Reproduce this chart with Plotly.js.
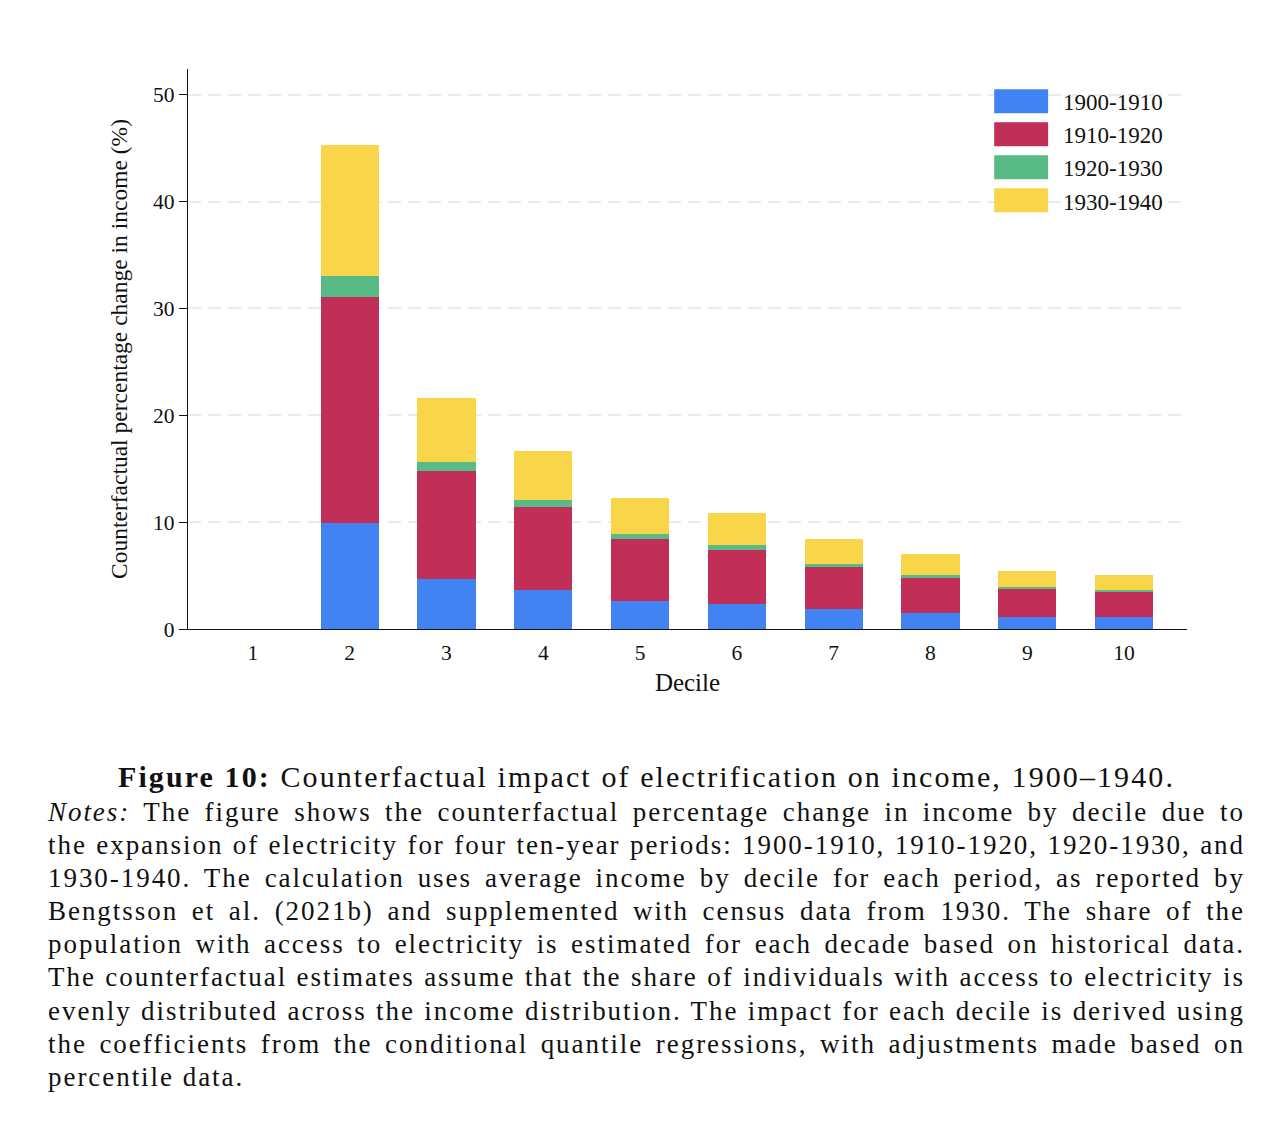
<!DOCTYPE html>
<html>
<head>
<meta charset="utf-8">
<script src="https://cdn.plot.ly/plotly-3.0.1.min.js"></script>
<style>
  html, body { margin: 0; padding: 0; background: #fff; }
  #chart { position: absolute; left: 0; top: 0; width: 1288px; height: 740px; }
  #caption { position: absolute; left: 48px; top: 758px; width: 1197px;
             font-family: "Liberation Serif", "Times New Roman", serif; color: #111; }
  #caption .title { text-align: center; font-size: 30px; line-height: 38px; white-space: nowrap; }
  #caption .ln { font-size: 27px; line-height: 33.1px; white-space: nowrap;
                 text-align: justify; text-align-last: justify; }
  #caption .ln.last { text-align-last: left; }
  #caption .measure { position: absolute; left: 0; top: 0; visibility: hidden; white-space: nowrap; width: auto; }
</style>
</head>
<body>
<div id="chart"></div>
<div id="caption"></div>
<script>
// ---- data ----
const deciles = [1, 2, 3, 4, 5, 6, 7, 8, 9, 10];
const p1900_1910 = [0, 9.9, 4.68, 3.62, 2.65, 2.37, 1.84, 1.50, 1.15, 1.10];
const p1910_1920 = [0, 21.2, 10.08, 7.77, 5.78, 5.06, 3.94, 3.31, 2.56, 2.36];
const p1920_1930 = [0, 1.9, 0.91, 0.72, 0.50, 0.44, 0.34, 0.25, 0.22, 0.19];
const p1930_1940 = [0, 12.25, 5.90, 4.53, 3.34, 2.99, 2.31, 1.96, 1.53, 1.41];
const seriesNames = ["1900-1910", "1910-1920", "1920-1930", "1930-1940"];
const seriesColors = ["#4283F4", "#C12F59", "#58BB85", "#F8D549"];
const yTicks = [0, 10, 20, 30, 40, 50];

const seriesValues = [p1900_1910, p1910_1920, p1920_1930, p1930_1940];
const serif = "Liberation Serif, Times New Roman, serif";

const traces = seriesValues.map((vals, i) => ({
  type: "bar",
  x: deciles,
  y: vals,
  name: seriesNames[i],
  marker: { color: seriesColors[i], line: { width: 0 } },
  width: 0.6,
  showlegend: false,
  hoverinfo: "x+y+name"
}));

// legend drawn as swatches + labels (paper coords)
const shapes = [];
const annotations = [];
const legX0 = 0.807, legX1 = 0.861, legTop = 0.964, legH = 0.043, legStep = 0.059;
seriesNames.forEach((nm, i) => {
  const top = legTop - i * legStep;
  shapes.push({ type: "rect", xref: "paper", yref: "paper",
    x0: legX0, x1: legX1, y0: top - legH, y1: top,
    fillcolor: seriesColors[i], line: { width: 0 } });
  annotations.push({ xref: "paper", yref: "paper", x: 0.874, y: top - legH / 2 - 0.003,
    xanchor: "left", yanchor: "middle", showarrow: false, text: nm,
    font: { family: serif, size: 23, color: "#111" } });
});

const layout = {
  width: 1288, height: 740,
  margin: { l: 188, r: 101, t: 69, b: 111 },
  paper_bgcolor: "#fff", plot_bgcolor: "#fff",
  barmode: "stack",
  bargap: 0.4,
  xaxis: {
    range: [0.33, 10.65],
    tickmode: "array", tickvals: deciles, ticktext: deciles.map(String),
    showline: true, linecolor: "#111", linewidth: 1.2,
    showgrid: false, zeroline: false, ticks: "",
    ticklabelstandoff: 4,
    tickfont: { family: serif, size: 21.5, color: "#111" },
    title: { text: "Decile", font: { family: serif, size: 25, color: "#111" }, standoff: 9 }
  },
  yaxis: {
    range: [0, 52.4],
    tickmode: "array", tickvals: yTicks, ticktext: yTicks.map(String),
    showline: true, linecolor: "#111", linewidth: 1.2,
    ticks: "outside", ticklen: 8, tickcolor: "#111", tickwidth: 1,
    showgrid: true, gridcolor: "#ebebeb", gridwidth: 2, griddash: "13px,7px",
    zeroline: false,
    tickfont: { family: serif, size: 21.5, color: "#111" },
    title: { text: "Counterfactual percentage change in income (%)",
             font: { family: serif, size: 23.5, color: "#111" }, standoff: 18 }
  },
  shapes: shapes,
  annotations: annotations,
  font: { family: serif, color: "#111" }
};

Plotly.newPlot("chart", traces, layout, { displayModeBar: false, staticPlot: true });

// ---- caption ----
const captionTitleBold = "Figure 10:";
const captionTitleRest = "Counterfactual impact of electrification on income, 1900–1940.";
const notesLines = [
  "The figure shows the counterfactual percentage change in income by decile due to",
  "the expansion of electricity for four ten-year periods: 1900-1910, 1910-1920, 1920-1930, and",
  "1930-1940. The calculation uses average income by decile for each period, as reported by",
  "Bengtsson et al. (2021b) and supplemented with census data from 1930. The share of the",
  "population with access to electricity is estimated for each decade based on historical data.",
  "The counterfactual estimates assume that the share of individuals with access to electricity is",
  "evenly distributed across the income distribution. The impact for each decile is derived using",
  "the coefficients from the conditional quantile regressions, with adjustments made based on",
  "percentile data."
];
const cap = document.getElementById("caption");
const t = document.createElement("div");
t.className = "title";
const b = document.createElement("b");
b.textContent = captionTitleBold;
t.appendChild(b);
t.appendChild(document.createTextNode(" " + captionTitleRest));
cap.appendChild(t);

const lineDivs = [];
notesLines.forEach((line, i) => {
  const d = document.createElement("div");
  d.className = "ln" + (i === notesLines.length - 1 ? " last" : "");
  if (i === 0) {
    const it = document.createElement("i");
    it.textContent = "Notes:";
    d.appendChild(it);
    d.appendChild(document.createTextNode(" " + line));
  } else {
    d.textContent = line;
  }
  cap.appendChild(d);
  lineDivs.push(d);
});

// width fitting: widen letters like Computer Modern so the tightest line fills the measure
function naturalWidth(el) {
  const m = el.cloneNode(true);
  m.className = el.className + " measure";
  cap.appendChild(m);
  const w = m.getBoundingClientRect().width;
  cap.removeChild(m);
  return w;
}
const target = 1197;
let ls = Infinity;
lineDivs.slice(0, -1).forEach(d => {
  const w = naturalWidth(d);
  const n = d.textContent.length;
  ls = Math.min(ls, (target - 8 - w) / n);
});
if (!isFinite(ls) || ls < 0) ls = 0;
lineDivs.forEach(d => { d.style.letterSpacing = ls + "px"; });
// title
const titleTarget = 1057;
const tw = naturalWidth(t);
let tls = (titleTarget - tw) / t.textContent.length;
if (!isFinite(tls) || tls < 0) tls = 0;
t.style.letterSpacing = tls + "px";
</script>
</body>
</html>
